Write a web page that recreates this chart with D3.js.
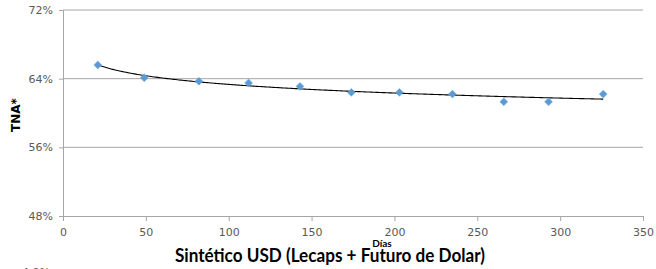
<!DOCTYPE html>
<html>
<head>
<meta charset="utf-8">
<script src="https://cdn.jsdelivr.net/npm/d3@7"></script>
<style>
  body { margin: 0; background: #fff; }
  svg { display: block; }
</style>
</head>
<body>
<div id="chart"></div>
<script>
// days to maturity and TNA (%)
const dias = [21, 49, 82, 112, 143, 174, 203, 235, 266, 293, 326];
const tna = [65.6, 64.1, 63.7, 63.5, 63.1, 62.4, 62.4, 62.2, 61.3, 61.3, 62.2];
const xTicks = [0, 50, 100, 150, 200, 250, 300, 350];
const yTicks = [48, 56, 64, 72];

const width = 656, height = 269;
const margin = { top: 10, right: 13, bottom: 53, left: 63 };
const innerW = width - margin.left - margin.right;
const innerH = height - margin.top - margin.bottom;

const svg = d3.select('#chart')
    .append('svg')
    .attr('width', width)
    .attr('height', height);

const g = svg.append('g')
    .attr('transform', `translate(${margin.left}, ${margin.top})`);

const x = d3.scaleLinear().domain([0, 350]).range([0, innerW]);
const y = d3.scaleLinear().domain([48, 72]).range([innerH, 0]);

// gridlines
g.append('g')
    .selectAll('line')
    .data(yTicks.filter(d => d > 48))
    .join('line')
    .attr('x1', 0).attr('x2', innerW)
    .attr('y1', d => y(d)).attr('y2', d => y(d))
    .attr('stroke', '#a6a6a6')
    .attr('stroke-width', 1);

// y axis
const yAxis = g.append('g')
    .call(d3.axisLeft(y).tickValues(yTicks).tickFormat(d => d + '%').tickSize(4).tickPadding(6));
yAxis.select('.domain').attr('stroke', '#a6a6a6');
yAxis.selectAll('.tick line').attr('stroke', '#a6a6a6');
yAxis.selectAll('.tick text')
    .attr('fill', '#595959')
    .style('font-family', 'DejaVu Sans')
    .style('font-size', '11px');

// x axis
const xAxis = g.append('g')
    .attr('transform', `translate(0, ${innerH})`)
    .call(d3.axisBottom(x).tickValues(xTicks).tickSize(5).tickPadding(7));
xAxis.select('.domain').attr('stroke', '#a6a6a6');
xAxis.selectAll('.tick line').attr('stroke', '#a6a6a6');
xAxis.selectAll('.tick text')
    .attr('fill', '#595959')
    .style('font-family', 'DejaVu Sans')
    .style('font-size', '11px');

// logarithmic trend line fitted to the points
const lx = dias.map(d => Math.log(d));
const mx = d3.mean(lx), my = d3.mean(tna);
const b = d3.sum(lx, (v, i) => (v - mx) * (tna[i] - my)) / d3.sum(lx, v => (v - mx) ** 2);
const a = my - b * mx;
const trendX = d3.range(dias[0], dias[dias.length - 1] + 0.5, 1);

g.append('path')
    .datum(trendX)
    .attr('fill', 'none')
    .attr('stroke', '#000')
    .attr('stroke-width', 1.1)
    .attr('d', d3.line().x(d => x(d)).y(d => y(a + b * Math.log(d))));

// markers
g.append('g')
    .selectAll('path')
    .data(dias.map((d, i) => [d, tna[i]]))
    .join('path')
    .attr('transform', d => `translate(${x(d[0])}, ${y(d[1])})`)
    .attr('d', d3.symbol(d3.symbolDiamond2, 40))
    .attr('fill', '#5b9bd5')
    .attr('stroke', '#6fa8dc')
    .attr('stroke-width', 0.5);

// labels
svg.append('text')
    .attr('transform', `translate(20, 115) rotate(-90)`)
    .attr('text-anchor', 'middle')
    .style('font-family', 'DejaVu Sans')
    .style('font-weight', 'bold')
    .style('font-size', '12px')
    .text('TNA*');

svg.append('text')
    .attr('x', 382)
    .attr('y', 247)
    .attr('text-anchor', 'middle')
    .style('font-family', 'Lato')
    .style('font-weight', 'bold')
    .style('font-size', '10px')
    .text('Días');

svg.append('text')
    .attr('x', 330)
    .attr('y', 262)
    .attr('text-anchor', 'middle')
    .attr('textLength', 310)
    .attr('lengthAdjust', 'spacingAndGlyphs')
    .style('font-family', 'Lato')
    .style('font-weight', 'bold')
    .style('font-size', '18px')
    .text('Sintético USD (Lecaps + Futuro de Dolar)');

// cut-off label of the next chart below
svg.append('text')
    .attr('x', 50)
    .attr('y', 276)
    .attr('text-anchor', 'end')
    .attr('fill', '#595959')
    .style('font-family', 'DejaVu Sans')
    .style('font-size', '11px')
    .text('4.0%');
</script>
</body>
</html>
